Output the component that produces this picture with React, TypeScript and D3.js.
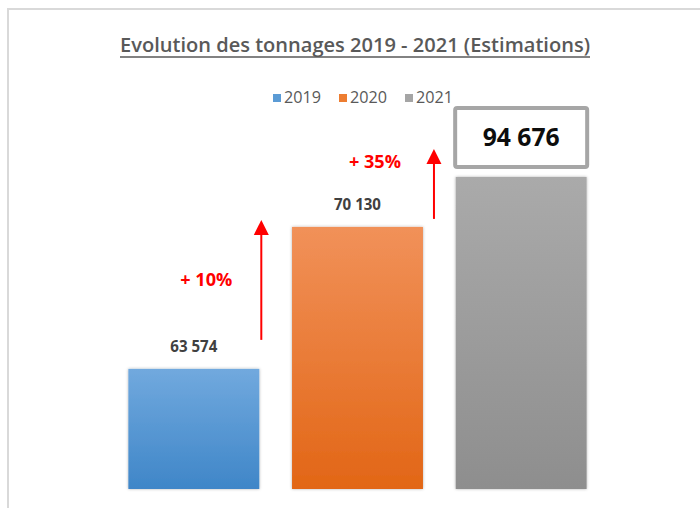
import React, { useEffect, useRef } from 'react';
import * as d3 from 'd3';

const annees = ['2019', '2020', '2021'];
const tonnages = [63574, 70130, 94676];
// visible bar heights (% of the tallest): the value axis is cut
const hauteurs = [38.5, 84, 100];
const hausses = ['+ 10%', '+ 35%'];
const couleurs = [
  ['#71a9de', '#3f86c8'],
  ['#f19159', '#e26616'],
  ['#aaaaaa', '#8e8e8e'],
];
const legendeCouleurs = ['#5b9bd5', '#ed7d31', '#a5a5a5'];

const W = 700;
const H = 508;

const formatFr = (v: number) => d3.format(',')(v).replace(/,/g, ' ');

const App: React.FC = () => {
  const chartRef = useRef<SVGSVGElement>(null);

  useEffect(() => {
    if (!chartRef.current) return;
    const svg = d3.select(chartRef.current);
    svg.selectAll('*').remove();

    const x = d3
      .scaleBand()
      .domain(annees)
      .range([112, 603])
      .paddingInner(0.2)
      .paddingOuter(0.1);
    const y = d3.scaleLinear().domain([0, 100]).range([489, 177]);
    const bw = x.bandwidth();

    const defs = svg.append('defs');
    annees.forEach((a, i) => {
      const g = defs
        .append('linearGradient')
        .attr('id', `grad-${a}`)
        .attr('x1', 0)
        .attr('y1', 0)
        .attr('x2', 0)
        .attr('y2', 1);
      g.append('stop').attr('offset', '0%').attr('stop-color', couleurs[i][0]);
      g.append('stop').attr('offset', '100%').attr('stop-color', couleurs[i][1]);
    });
    const f = defs
      .append('filter')
      .attr('id', 'ombre')
      .attr('x', '-10%')
      .attr('y', '-10%')
      .attr('width', '120%')
      .attr('height', '120%');
    f.append('feDropShadow')
      .attr('dx', 0)
      .attr('dy', 0)
      .attr('stdDeviation', 1.5)
      .attr('flood-color', '#000')
      .attr('flood-opacity', 0.3);

    // frame
    svg
      .append('rect')
      .attr('x', 8)
      .attr('y', 9)
      .attr('width', W + 20)
      .attr('height', H + 20)
      .attr('fill', 'none')
      .attr('stroke', '#d9d9d9')
      .attr('stroke-width', 2);

    // title
    svg
      .append('text')
      .attr('x', 355)
      .attr('y', 52)
      .attr('text-anchor', 'middle')
      .attr('font-family', 'Open Sans, sans-serif')
      .attr('font-weight', 600)
      .attr('font-size', 20)
      .attr('fill', '#595959')
      .attr('textLength', 470)
      .attr('lengthAdjust', 'spacingAndGlyphs')
      .text('Evolution des tonnages 2019 - 2021 (Estimations)');
    svg
      .append('line')
      .attr('x1', 355 - 235)
      .attr('x2', 355 + 235)
      .attr('y1', 57)
      .attr('y2', 57)
      .attr('stroke', '#595959')
      .attr('stroke-width', 1.5);

    // legend
    let lx = 273;
    annees.forEach((a, i) => {
      svg
        .append('rect')
        .attr('x', lx)
        .attr('y', 94)
        .attr('width', 8)
        .attr('height', 8)
        .attr('fill', legendeCouleurs[i]);
      svg
        .append('text')
        .attr('x', lx + 11)
        .attr('y', 103)
        .attr('font-family', 'Open Sans, sans-serif')
        .attr('font-size', 16)
        .attr('fill', '#595959')
        .attr('textLength', 37)
        .attr('lengthAdjust', 'spacingAndGlyphs')
        .text(a);
      lx += 11 + 37 + 18;
    });

    // bars
    svg
      .append('g')
      .selectAll('rect')
      .data(annees)
      .enter()
      .append('rect')
      .attr('x', (d) => x(d) || 0)
      .attr('y', (d, i) => y(hauteurs[i]))
      .attr('width', bw)
      .attr('height', (d, i) => y(0) - y(hauteurs[i]))
      .attr('fill', (d) => `url(#grad-${d})`)
      .attr('filter', 'url(#ombre)');

    // value labels (2019, 2020)
    svg
      .append('g')
      .selectAll('text')
      .data(annees.slice(0, 2))
      .enter()
      .append('text')
      .attr('x', (d) => (x(d) || 0) + bw / 2)
      .attr('y', (d, i) => y(hauteurs[i]) - 17)
      .attr('text-anchor', 'middle')
      .attr('font-family', 'Open Sans, sans-serif')
      .attr('font-weight', 'bold')
      .attr('font-size', 16.5)
      .attr('fill', '#404040')
      .attr('textLength', 47)
      .attr('lengthAdjust', 'spacingAndGlyphs')
      .text((d, i) => formatFr(tonnages[i]));

    // boxed label for 2021
    const cx3 = (x(annees[2]) || 0) + bw / 2;
    const boxTop = y(hauteurs[2]) - 71;
    svg
      .append('rect')
      .attr('x', cx3 - 66)
      .attr('y', boxTop + 2)
      .attr('width', 132)
      .attr('height', 59)
      .attr('rx', 2)
      .attr('fill', '#fff')
      .attr('stroke', '#a6a6a6')
      .attr('stroke-width', 4);
    svg
      .append('text')
      .attr('x', cx3)
      .attr('y', boxTop + 40)
      .attr('text-anchor', 'middle')
      .attr('font-family', 'Open Sans, sans-serif')
      .attr('font-weight', 'bold')
      .attr('font-size', 25)
      .attr('fill', '#0d0d0d')
      .attr('textLength', 77)
      .attr('lengthAdjust', 'spacingAndGlyphs')
      .text(formatFr(tonnages[2]));

    // growth arrows
    const fleches = [
      { dx: 2, from: y(hauteurs[0]) - 29, to: y(hauteurs[1]) - 7, tx: -55, ty: y(hauteurs[0]) - 83 },
      { dx: 11, from: y(hauteurs[1]) - 8, to: y(hauteurs[2]) - 28, tx: -59, ty: y(hauteurs[1]) - 59 },
    ];
    fleches.forEach((fl, i) => {
      const ax = (x(annees[i]) || 0) + bw + fl.dx;
      svg
        .append('line')
        .attr('x1', ax)
        .attr('x2', ax)
        .attr('y1', fl.from)
        .attr('y2', fl.to + 12)
        .attr('stroke', '#ff0000')
        .attr('stroke-width', 2);
      svg
        .append('path')
        .attr(
          'd',
          `M${ax},${fl.to} L${ax - 7.5},${fl.to + 15} L${ax + 7.5},${fl.to + 15} Z`
        )
        .attr('fill', '#ff0000');
      svg
        .append('text')
        .attr('x', ax + fl.tx)
        .attr('y', fl.ty)
        .attr('text-anchor', 'middle')
        .attr('font-family', 'Open Sans, sans-serif')
        .attr('font-weight', 'bold')
        .attr('font-size', 17.5)
        .attr('fill', '#ff0000')
        .attr('textLength', 52)
        .attr('lengthAdjust', 'spacingAndGlyphs')
        .text(hausses[i]);
    });

    return () => {
      svg.selectAll('*').remove();
    };
  }, []);

  return (
    <svg
      ref={chartRef}
      width={W}
      height={H}
      style={{ position: 'absolute', left: 0, top: 0, background: '#fff' }}
    ></svg>
  );
};

export default App;
